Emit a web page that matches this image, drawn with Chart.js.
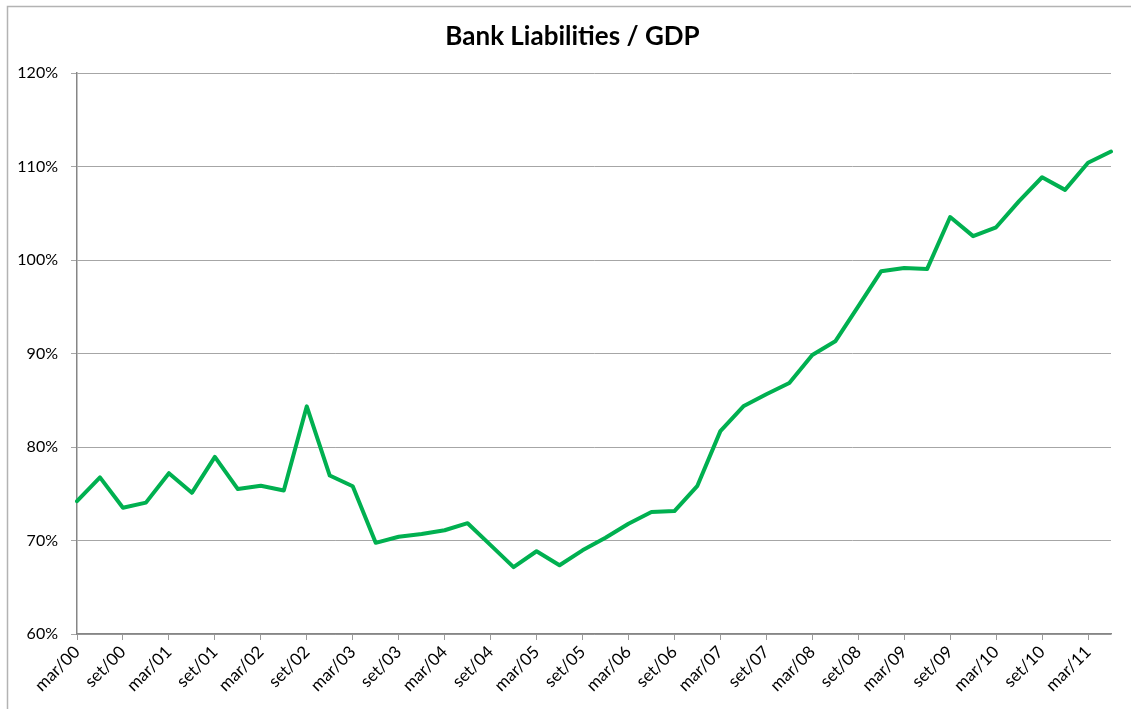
<!DOCTYPE html>
<html>
<head>
<meta charset="utf-8">
<script src="https://cdn.jsdelivr.net/npm/chart.js@4.4.1/dist/chart.umd.min.js"></script>
<style>
  html, body { margin: 0; padding: 0; background: #fff; }
  #wrap { width: 1131px; height: 709px; position: relative; }
</style>
</head>
<body>
<div id="wrap"><canvas id="c" width="1131" height="709"></canvas></div>
<script>
// Quarterly categories (Portuguese month abbreviations)
const quarters = [
  'mar/00','jun/00','set/00','dez/00',
  'mar/01','jun/01','set/01','dez/01',
  'mar/02','jun/02','set/02','dez/02',
  'mar/03','jun/03','set/03','dez/03',
  'mar/04','jun/04','set/04','dez/04',
  'mar/05','jun/05','set/05','dez/05',
  'mar/06','jun/06','set/06','dez/06',
  'mar/07','jun/07','set/07','dez/07',
  'mar/08','jun/08','set/08','dez/08',
  'mar/09','jun/09','set/09','dez/09',
  'mar/10','jun/10','set/10','dez/10',
  'mar/11','jun/11'
];
// Bank liabilities as % of GDP
const liabilitiesPct = [
  74.2, 76.75, 73.5, 74.05,
  77.2, 75.1, 78.95, 75.5,
  75.85, 75.35, 84.35, 76.95,
  75.8, 69.75, 70.4, 70.7,
  71.1, 71.85, 69.5, 67.15,
  68.85, 67.35, 68.95, 70.3,
  71.8, 73.05, 73.15, 75.85,
  81.7, 84.35, 85.65, 86.85,
  89.85, 91.3, 95.05, 98.8,
  99.15, 99.05, 104.6, 102.55,
  103.5, 106.3, 108.85, 107.5,
  110.4, 111.6
];
const yMin = 60, yMax = 120, yStep = 10;
const titleText = 'Bank Liabilities / GDP';

const framePlugin = {
  id: 'frame',
  beforeDraw(chart) {
    const ctx = chart.ctx;
    ctx.save();
    ctx.fillStyle = '#ffffff';
    ctx.fillRect(0, 0, chart.width, chart.height);
    ctx.strokeStyle = '#b3b3b3';
    ctx.lineWidth = 1.5;
    ctx.beginPath();
    ctx.moveTo(7.5, chart.height);
    ctx.lineTo(7.5, 6.5);
    ctx.lineTo(chart.width, 6.5);
    ctx.stroke();
    ctx.restore();
  }
};

new Chart(document.getElementById('c'), {
  type: 'line',
  data: {
    labels: quarters,
    datasets: [{
      data: liabilitiesPct,
      borderColor: '#00B050',
      borderWidth: 4,
      pointRadius: 0,
      tension: 0,
      borderJoinStyle: 'round',
      borderCapStyle: 'round',
      fill: false
    }]
  },
  options: {
    responsive: false,
    animation: false,
    devicePixelRatio: 1,
    layout: { padding: { left: 14, right: 0, top: 0, bottom: 0 } },
    plugins: {
      legend: { display: false },
      tooltip: { enabled: false },
      title: {
        display: true,
        text: titleText,
        color: '#000',
        font: { family: 'Lato', size: 26, weight: 'bold', lineHeight: 1.2 },
        padding: { top: 21, bottom: 20.8 }
      }
    },
    scales: {
      x: {
        type: 'category',
        offset: false,
        afterFit(scale) { scale.height = 75; scale.paddingRight = 20; },
        grid: {
          drawOnChartArea: false,
          drawTicks: true,
          tickLength: 6,
          tickColor: (ctx) => (ctx.index % 2 === 0 ? '#9a9a9a' : 'rgba(0,0,0,0)')
        },
        border: { display: true, color: '#868686', width: 1.5 },
        ticks: {
          autoSkip: false,
          maxRotation: 45,
          minRotation: 45,
          padding: 2,
          color: '#000',
          font: { family: 'Lato', size: 17 },
          callback(value, index) { return index % 2 === 0 ? this.getLabelForValue(value) : ''; }
        }
      },
      y: {
        min: yMin,
        max: yMax,
        afterFit(scale) { scale.width = 63; },
        grid: {
          color: '#a6a6a6',
          lineWidth: 1,
          drawTicks: true,
          tickLength: 6,
          tickColor: '#a6a6a6'
        },
        border: { display: true, color: '#868686', width: 1.5 },
        ticks: {
          stepSize: yStep,
          padding: 13,
          color: '#000',
          font: { family: 'Lato', size: 16 },
          callback(v) { return v + '%'; }
        }
      }
    }
  },
  plugins: [framePlugin]
});
</script>
</body>
</html>
